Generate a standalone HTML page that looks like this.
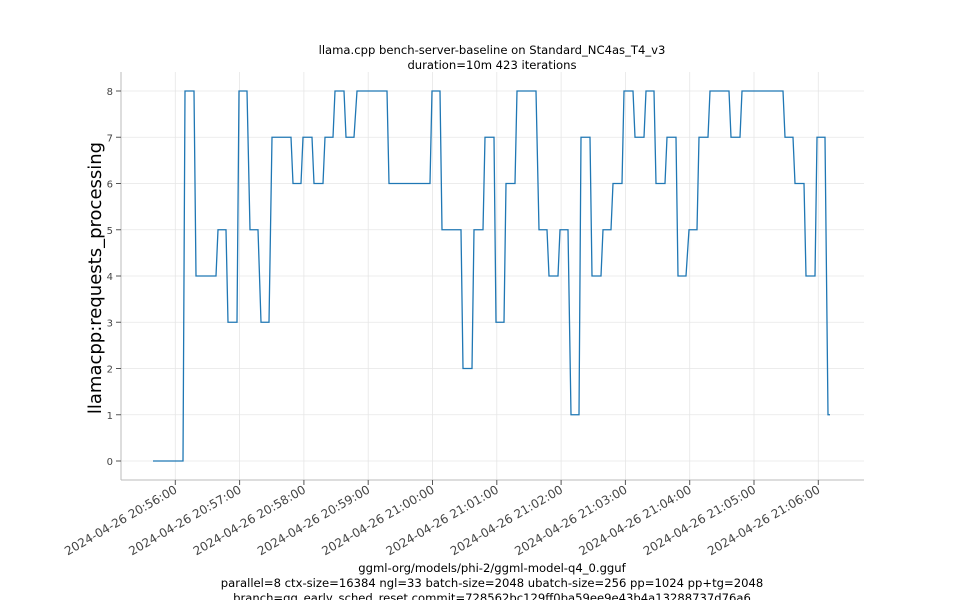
<!DOCTYPE html>
<html><head><meta charset="utf-8"><style>body{margin:0;background:#fff}svg{display:block}</style></head>
<body>
<svg width="960" height="600" xmlns="http://www.w3.org/2000/svg" font-family="DejaVu Sans, Liberation Sans, sans-serif">
<rect width="960" height="600" fill="#fff"/>
<g stroke="#e6e6e6" stroke-width="0.8">
<line x1="121" x2="864" y1="461" y2="461"/><line x1="121" x2="864" y1="414.75" y2="414.75"/><line x1="121" x2="864" y1="368.5" y2="368.5"/><line x1="121" x2="864" y1="322.25" y2="322.25"/><line x1="121" x2="864" y1="276" y2="276"/><line x1="121" x2="864" y1="229.75" y2="229.75"/><line x1="121" x2="864" y1="183.5" y2="183.5"/><line x1="121" x2="864" y1="137.25" y2="137.25"/><line x1="121" x2="864" y1="91" y2="91"/>
<line x1="175.3" x2="175.3" y1="72" y2="480"/><line x1="239.6" x2="239.6" y1="72" y2="480"/><line x1="303.9" x2="303.9" y1="72" y2="480"/><line x1="368.2" x2="368.2" y1="72" y2="480"/><line x1="432.5" x2="432.5" y1="72" y2="480"/><line x1="496.8" x2="496.8" y1="72" y2="480"/><line x1="561.1" x2="561.1" y1="72" y2="480"/><line x1="625.4" x2="625.4" y1="72" y2="480"/><line x1="689.7" x2="689.7" y1="72" y2="480"/><line x1="754" x2="754" y1="72" y2="480"/><line x1="818.3" x2="818.3" y1="72" y2="480"/>
</g>
<g stroke="#bbb" stroke-width="1"><line x1="121" x2="121" y1="72" y2="480"/><line x1="121" x2="864" y1="480" y2="480"/></g>
<g stroke="#555" stroke-width="1">
<line x1="116" x2="121" y1="461" y2="461"/><line x1="116" x2="121" y1="414.75" y2="414.75"/><line x1="116" x2="121" y1="368.5" y2="368.5"/><line x1="116" x2="121" y1="322.25" y2="322.25"/><line x1="116" x2="121" y1="276" y2="276"/><line x1="116" x2="121" y1="229.75" y2="229.75"/><line x1="116" x2="121" y1="183.5" y2="183.5"/><line x1="116" x2="121" y1="137.25" y2="137.25"/><line x1="116" x2="121" y1="91" y2="91"/>
<line x1="175.3" x2="175.3" y1="480" y2="485"/><line x1="239.6" x2="239.6" y1="480" y2="485"/><line x1="303.9" x2="303.9" y1="480" y2="485"/><line x1="368.2" x2="368.2" y1="480" y2="485"/><line x1="432.5" x2="432.5" y1="480" y2="485"/><line x1="496.8" x2="496.8" y1="480" y2="485"/><line x1="561.1" x2="561.1" y1="480" y2="485"/><line x1="625.4" x2="625.4" y1="480" y2="485"/><line x1="689.7" x2="689.7" y1="480" y2="485"/><line x1="754" x2="754" y1="480" y2="485"/><line x1="818.3" x2="818.3" y1="480" y2="485"/>
</g>
<g font-size="10" fill="#444" text-anchor="end">
<text x="113" y="465">0</text><text x="113" y="418.75">1</text><text x="113" y="372.5">2</text><text x="113" y="326.25">3</text><text x="113" y="280">4</text><text x="113" y="233.75">5</text><text x="113" y="187.5">6</text><text x="113" y="141.25">7</text><text x="113" y="95">8</text>
</g>
<g font-size="12" fill="#444" text-anchor="end">
<text transform="translate(178,492) rotate(-30)">2024-04-26 20:56:00</text>
<text transform="translate(242.3,492) rotate(-30)">2024-04-26 20:57:00</text>
<text transform="translate(306.6,492) rotate(-30)">2024-04-26 20:58:00</text>
<text transform="translate(370.9,492) rotate(-30)">2024-04-26 20:59:00</text>
<text transform="translate(435.2,492) rotate(-30)">2024-04-26 21:00:00</text>
<text transform="translate(499.5,492) rotate(-30)">2024-04-26 21:01:00</text>
<text transform="translate(563.8,492) rotate(-30)">2024-04-26 21:02:00</text>
<text transform="translate(628.1,492) rotate(-30)">2024-04-26 21:03:00</text>
<text transform="translate(692.4,492) rotate(-30)">2024-04-26 21:04:00</text>
<text transform="translate(756.7,492) rotate(-30)">2024-04-26 21:05:00</text>
<text transform="translate(821,492) rotate(-30)">2024-04-26 21:06:00</text>
</g>
<polyline fill="none" stroke="#1f77b4" stroke-width="1.3" points="153,461 183,461 185,91 194,91 196,276 216,276 218,229.75 226,229.75 228,322.25 237,322.25 239,91 247,91 250,229.75 258,229.75 261,322.25 269,322.25 272,137.25 291,137.25 293,183.5 301,183.5 303,137.25 312,137.25 314,183.5 323,183.5 325,137.25 333,137.25 335,91 344,91 346,137.25 354,137.25 357,91 387,91 389,183.5 430,183.5 432,91 440,91 442,229.75 461,229.75 463,368.5 472,368.5 474,229.75 483,229.75 485,137.25 494,137.25 496,322.25 504,322.25 506,183.5 515,183.5 517,91 536,91 539,229.75 547,229.75 549,276 558,276 560,229.75 568,229.75 571,414.75 579,414.75 581,137.25 590,137.25 592,276 601,276 603,229.75 611,229.75 613,183.5 622,183.5 624,91 633,91 635,137.25 644,137.25 646,91 654,91 656,183.5 665,183.5 667,137.25 676,137.25 678,276 686,276 689,229.75 697,229.75 699,137.25 708,137.25 710,91 729,91 731,137.25 740,137.25 742,91 783,91 785,137.25 793,137.25 795,183.5 804,183.5 806,276 815,276 817,137.25 825,137.25 828,414.75 830,414.75"/>
<g font-size="11.6" fill="#000" text-anchor="middle">
<text x="492" y="54">llama.cpp bench-server-baseline on Standard_NC4as_T4_v3</text>
<text x="492" y="69">duration=10m 423 iterations</text>
<text x="492" y="572">ggml-org/models/phi-2/ggml-model-q4_0.gguf</text>
<text x="492" y="587">parallel=8 ctx-size=16384 ngl=33 batch-size=2048 ubatch-size=256 pp=1024 pp+tg=2048</text>
<text x="492" y="602">branch=gg_early_sched_reset commit=728562bc129ff0ba59ee9e43b4a13288737d76a6</text>
</g>
<text transform="translate(101,278) rotate(-90)" font-size="18" text-anchor="middle" fill="#000">llamacpp:requests_processing</text>
</svg>
</body></html>
